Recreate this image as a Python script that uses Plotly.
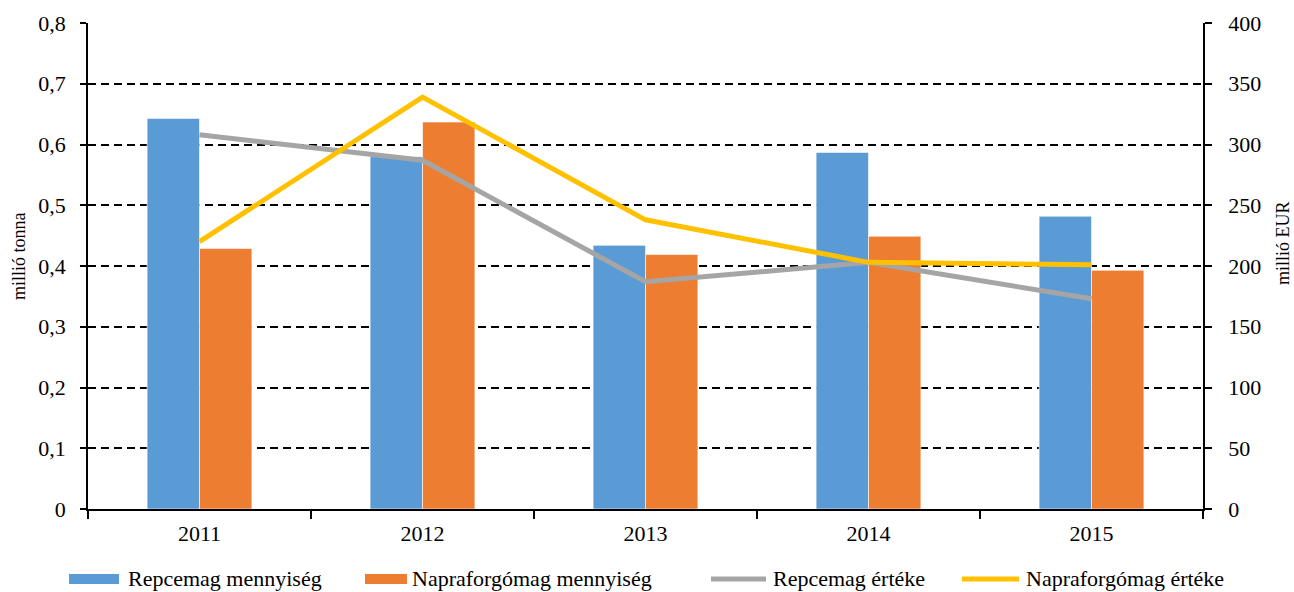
import plotly.graph_objects as go

years = ["2011", "2012", "2013", "2014", "2015"]
repce_menny = [0.643, 0.58, 0.434, 0.587, 0.482]
napra_menny = [0.429, 0.637, 0.419, 0.449, 0.393]
repce_ertek = [308, 287, 187, 203, 173]
napra_ertek = [220, 339, 238, 203, 201]

y1_ticks = [0, 0.1, 0.2, 0.3, 0.4, 0.5, 0.6, 0.7, 0.8]
y1_labels = ["0", "0,1", "0,2", "0,3", "0,4", "0,5", "0,6", "0,7", "0,8"]
y2_ticks = [0, 50, 100, 150, 200, 250, 300, 350, 400]
y2_labels = ["0", "50", "100", "150", "200", "250", "300", "350", "400"]

series_names = ["Repcemag mennyiség", "Napraforgómag mennyiség",
                "Repcemag értéke", "Napraforgómag értéke"]
colors = ["#5B9BD5", "#ED7D31", "#A5A5A5", "#FFC000"]

FONT = "Liberation Serif"
W, H = 1294, 592
ML, MR, MT, MB = 88, 91, 23, 83
PW, PH = W - ML - MR, H - MT - MB


def px_x(x):
    return (x - ML) / PW


def px_y(y):
    return (H - MB - y) / PH


fig = go.Figure()
fig.add_trace(go.Bar(x=years, y=repce_menny, name=series_names[0],
                     marker=dict(color=colors[0], line=dict(color="rgba(255,255,255,0.6)", width=1))))
fig.add_trace(go.Bar(x=years, y=napra_menny, name=series_names[1],
                     marker=dict(color=colors[1], line=dict(color="rgba(255,255,255,0.6)", width=1))))
fig.add_trace(go.Scatter(x=years, y=repce_ertek, name=series_names[2], yaxis="y2",
                         mode="lines", line=dict(color=colors[2], width=5)))
fig.add_trace(go.Scatter(x=years, y=napra_ertek, name=series_names[3], yaxis="y2",
                         mode="lines", line=dict(color=colors[3], width=5)))

# custom legend (swatches + labels) below the plot
legend_items = [
    (69, 119, 126, "bar"),
    (365, 407, 410, "bar"),
    (711, 766, 771, "line"),
    (962, 1019, 1024, "line"),
]
shapes = []
annotations = []
ly = 579
for (x0, x1, tx, kind), name, col in zip(legend_items, series_names, colors):
    if kind == "bar":
        shapes.append(dict(type="rect", xref="paper", yref="paper",
                           x0=px_x(x0), x1=px_x(x1), y0=px_y(ly + 5), y1=px_y(ly - 5),
                           fillcolor=col, line=dict(width=0)))
    else:
        shapes.append(dict(type="line", xref="paper", yref="paper",
                           x0=px_x(x0), x1=px_x(x1), y0=px_y(ly), y1=px_y(ly),
                           line=dict(color=col, width=5)))
    annotations.append(dict(text=name, xref="paper", yref="paper", x=px_x(tx), y=px_y(ly - 1),
                            xanchor="left", yanchor="middle", showarrow=False,
                            font=dict(family=FONT, size=22, color="black")))

# axis titles
annotations.append(dict(text="millió tonna", xref="paper", yref="paper",
                        x=px_x(19), y=px_y(256), textangle=-90, showarrow=False,
                        xanchor="center", yanchor="middle",
                        font=dict(family=FONT, size=18, color="black")))
annotations.append(dict(text="millió EUR", xref="paper", yref="paper",
                        x=px_x(1283), y=px_y(243), textangle=-90, showarrow=False,
                        xanchor="center", yanchor="middle",
                        font=dict(family=FONT, size=18, color="black")))

fig.update_layout(
    width=W, height=H,
    margin=dict(l=ML, r=MR, t=MT, b=MB, autoexpand=False),
    paper_bgcolor="white", plot_bgcolor="white",
    font=dict(family=FONT, size=22, color="black"),
    barmode="group", bargap=0.53, bargroupgap=0,
    showlegend=False,
    shapes=shapes,
    annotations=annotations,
    xaxis=dict(type="category", showline=True, linecolor="black", linewidth=1.5,
               ticks="outside", tickson="boundaries", ticklen=8, tickcolor="black",
               tickwidth=1.5, showgrid=False, automargin=False,
               tickfont=dict(family=FONT, size=22), ticklabelstandoff=4),
    yaxis=dict(range=[0, 0.8], tickvals=y1_ticks, ticktext=y1_labels,
               showline=True, linecolor="black", linewidth=1.5,
               ticks="outside", ticklen=6, tickcolor="black", tickwidth=1.5,
               showgrid=True, gridcolor="black", gridwidth=1.5, griddash="8px,5px",
               zeroline=False, automargin=False,
               tickfont=dict(family=FONT, size=22), ticklabelstandoff=10),
    yaxis2=dict(range=[0, 400], tickvals=y2_ticks, ticktext=y2_labels, overlaying="y",
                side="right", showline=True, linecolor="black", linewidth=1.5,
                ticks="outside", ticklen=7, tickcolor="black", tickwidth=1.5,
                showgrid=False, zeroline=False, automargin=False,
                tickfont=dict(family=FONT, size=22), ticklabelstandoff=12),
)

fig.write_html("out.html", config={"displayModeBar": False},
               post_script="document.body.style.margin='0';")
